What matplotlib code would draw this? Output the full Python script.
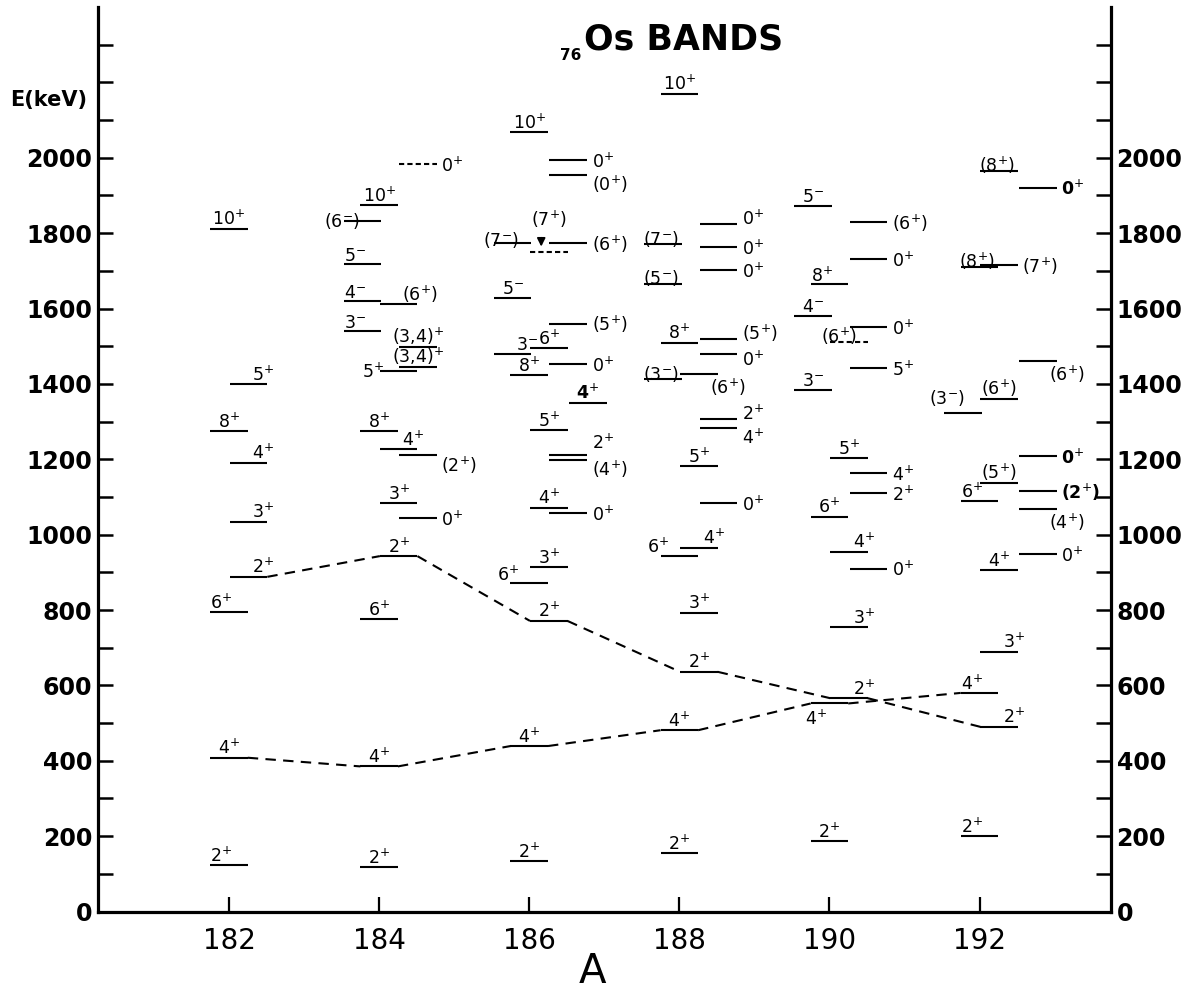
import matplotlib
matplotlib.use('Agg')
import matplotlib.pyplot as plt

# mass numbers of the osmium isotopes
masses = [182, 184, 186, 188, 190, 192]

# level energies (keV) and spin/parity labels for each isotope
e182 = [123, 408, 795, 888, 1034, 1191, 1274, 1399, 1812]
j182 = ['2+', '4+', '6+', '2+', '3+', '4+', '8+', '5+', '10+']

e184 = [118, 385, 775, 943, 1043, 1083, 1210, 1226, 1274, 1434, 1445, 1498,
        1541, 1611, 1620, 1717, 1832, 1874, 1983]
j184 = ['2+', '4+', '6+', '2+', '0+', '3+', '(2+)', '4+', '8+', '5+', '(3,4)+', '(3,4)+',
        '3-', '(6+)', '4-', '5-', '(6-)', '10+', '0+']

e186 = [134, 439, 771, 871, 913, 1058, 1071, 1198, 1211, 1277, 1350, 1423, 1452,
        1479, 1494, 1560, 1629, 1750, 1774, 1774, 1954, 1993, 2067]
j186 = ['2+', '4+', '2+', '6+', '3+', '0+', '4+', '(4+)', '2+', '5+', '4+', '8+', '0+',
        '3-', '6+', '(5+)', '5-', '(7+)', '(7-)', '(6+)', '(0+)', '0+', '10+']

e188 = [154, 481, 636, 793, 943, 965, 1083, 1182, 1282, 1306, 1412, 1426, 1479,
        1509, 1518, 1666, 1703, 1763, 1770, 1824, 2170]
j188 = ['2+', '4+', '2+', '3+', '6+', '4+', '0+', '5+', '4+', '2+', '(3-)', '(6+)', '0+',
        '8+', '(5+)', '(5-)', '0+', '0+', '(7-)', '0+', '10+']

e190 = [187, 552, 566, 754, 910, 954, 1047, 1111, 1164, 1202, 1385, 1443, 1510,
        1551, 1580, 1664, 1731, 1830, 1872]
j190 = ['2+', '4+', '2+', '3+', '0+', '4+', '6+', '2+', '4+', '5+', '3-', '5+', '(6+)',
        '0+', '4-', '8+', '0+', '(6+)', '5-']

e192 = [200, 490, 580, 689, 906, 948, 1068, 1089, 1116, 1138, 1208, 1324, 1361,
        1461, 1709, 1715, 1921, 1965]
j192 = ['2+', '2+', '4+', '3+', '4+', '0+', '(4+)', '6+', '(2+)', '(5+)', '0+', '(3-)', '(6+)',
        '(6+)', '(8+)', '(7+)', '0+', '(8+)']

# band members joined by dashed lines
gamma_2 = [888, 943, 771, 636, 566, 490]
ground_4 = [408, 385, 439, 481, 552, 580]

# tentative (dashed) levels and bold labels
dashed = [(184, 1983), (186, 1750), (190, 1510)]
bold = [(186, 1350), (192, 1921), (192, 1208), (192, 1116)]

# layout: column slot of each level and where its label goes
s182 = [0, 0, 0, 1, 1, 1, 0, 1, 0]
p182 = ['al', 'a', 'al', 'ar', 'ar', 'ar', 'a', 'ar', 'a']
s184 = [0, 0, 0, 1, 2, 1, 2, 1, 0, 1, 2, 2, -1, 1, -1, -1, -1, 0, 2]
p184 = ['a', 'a', 'a', 'a', 'r', 'a', 'rd', 'ar', 'a', 'l', 'a', 'a',
        'al', 'ar', 'al', 'al', 'ol', 'a', 'r']
s186 = [0, 0, 1, 0, 1, 2, 1, 2, 2, 1, 3, 0, 2, -1, 1, 2, -1, 1, -1, 2, 2, 2, 0]
p186 = ['a', 'a', 'a', 'lu', 'a', 'r', 'a', 'rd', 'ru2', 'a', 'a', 'a', 'r',
        'ar', 'a', 'r', 'a', 'a2', 'ol2', 'r', 'rd', 'r', 'a']
s188 = [0, 0, 1, 1, 0, 1, 2, 1, 2, 2, -1, 1, 2, 0, 2, -1, 2, 2, -1, 2, 0]
p188 = ['a', 'a', 'a', 'a', 'lu', 'ar', 'r', 'a', 'rd', 'ru', 'o', 'br', 'rd2',
        'a', 'ru', 'o', 'r', 'r', 'o', 'ru', 'a']
s190 = [0, 0, 1, 1, 2, 1, 0, 2, 2, 1, -1, 2, 1, 2, -1, 0, 2, 2, -1]
p190 = ['a', 'bl', 'ar', 'ar', 'r', 'ar', 'a', 'r', 'r', 'a', 'a', 'r', 'ld',
        'r', 'a', 'al', 'r', 'r', 'a']
s192 = [0, 1, 0, 1, 1, 3, 3, 0, 3, 1, 3, -1, 1, 3, 0, 1, 3, 1]
p192 = ['al', 'ar', 'al', 'ar', 'a', 'r', 'br', 'al', 'r', 'a', 'r', 'al2', 'a',
        'br', 'o', 'r', 'r', 'o']

levels = {182: (e182, j182), 184: (e184, j184), 186: (e186, j186),
          188: (e188, j188), 190: (e190, j190), 192: (e192, j192)}
layout = {182: (s182, p182), 184: (s184, p184), 186: (s186, p186),
          188: (s188, p188), 190: (s190, p190), 192: (s192, p192)}

slot_dx = {-1: -0.22, 0: 0.0, 1: 0.26, 2: 0.52, 3: 0.78}
half = 0.25

# anchor, x shift (A units), y shift (keV), horizontal alignment
place = {
    'a': ('c', 0.0, 10, 'center'),
    'a2': ('c', 0.0, 70, 'center'),
    'al': ('l', 0.0, 8, 'left'),
    'al2': ('l', -0.2, 22, 'left'),
    'ar': ('r', -0.2, 10, 'left'),
    'r': ('r', 0.06, -20, 'left'),
    'ru': ('r', 0.06, -2, 'left'),
    'ru2': ('r', 0.06, 18, 'left'),
    'rd': ('r', 0.06, -42, 'left'),
    'rd2': ('r', 0.06, -32, 'left'),
    'l': ('l', 0.05, -17, 'right'),
    'lu': ('l', 0.12, 8, 'right'),
    'ld': ('l', 0.36, 0, 'right'),
    'ol': ('l', 0.22, -15, 'right'),
    'ol2': ('l', 0.33, -8, 'right'),
    'o': ('c', -0.03, -2, 'center'),
    'br': ('r', -0.1, -52, 'left'),
    'bl': ('l', -0.08, -57, 'left'),
}


def spin_text(j):
    return j.replace('+', '$^{+}$').replace('-', '$^{-}$')


def ends(A, slot):
    c = A + slot_dx[slot]
    return c - half, c + half


fig = plt.figure(figsize=(11.94, 9.96), dpi=100)
ax = fig.add_axes([98 / 1194, 84.5 / 996, 1013 / 1194, 904.5 / 996])

for A in masses:
    E, J = levels[A]
    S, P = layout[A]
    for e, j, s, p in zip(E, J, S, P):
        x0, x1 = ends(A, s)
        ls = (0, (2.5, 1.5)) if (A, e) in dashed else '-'
        ax.plot([x0, x1], [e, e], color='black', lw=1.5, ls=ls, solid_capstyle='butt')
        anchor, dx, dy, ha = place[p]
        xa = {'c': (x0 + x1) / 2, 'l': x0, 'r': x1}[anchor]
        fw = 'bold' if (A, e) in bold else 'normal'
        ax.text(xa + dx, e + dy, spin_text(j), ha=ha, va='baseline',
                fontsize=12.5, fontweight=fw, color='black')

# dashed lines joining the band members
for band in (gamma_2, ground_4):
    for i in range(len(masses) - 1):
        A0, A1 = masses[i], masses[i + 1]
        s0 = layout[A0][0][levels[A0][0].index(band[i])]
        s1 = layout[A1][0][levels[A1][0].index(band[i + 1])]
        ax.plot([ends(A0, s0)[1], ends(A1, s1)[0]], [band[i], band[i + 1]],
                color='black', lw=1.5, ls=(0, (5, 3.5)))

# small arrow onto the (7+) level of 186Os
ax.annotate('', xy=(186.16, 1757), xytext=(186.16, 1795),
            arrowprops=dict(arrowstyle='-|>', color='black', lw=1.3, mutation_scale=12))

ax.set_xlim(180.254, 193.752)
ax.set_ylim(0, 2400)

ax.spines['top'].set_visible(False)
for side in ('left', 'right', 'bottom'):
    ax.spines[side].set_linewidth(2.3)

ax.set_xticks(masses)
ax.set_xticklabels([str(m) for m in masses],
                   fontdict=dict(family=['Liberation Sans Narrow', 'DejaVu Sans'], size=20))
yt = list(range(0, 2301, 100))
ax.set_yticks(yt)
ax.set_yticklabels([str(v) if v % 200 == 0 and v <= 2000 else '' for v in yt],
                   fontsize=17, fontweight='bold')
ax.tick_params(axis='x', direction='in', length=11, width=1.6, pad=11)
ax.tick_params(axis='y', direction='in', length=11, width=1.8, pad=4,
               left=True, right=True, labelleft=True, labelright=True)

fig.text(684 / 1194, 1 - 50 / 996, 'Os BANDS', ha='center', va='baseline',
         fontsize=25, fontweight='bold')
fig.text(571 / 1194, 1 - 60 / 996, '76', ha='center', va='baseline',
         fontsize=11, fontweight='bold')
fig.text(10 / 1194, 1 - 100 / 996, 'E(keV)', ha='left', va='center',
         fontsize=15, fontweight='bold')
fig.text(592 / 1194, 4 / 996, 'A', ha='center', va='bottom',
         family=['Liberation Sans Narrow', 'DejaVu Sans'], fontsize=29)

fig.savefig('out.png', dpi=100)
